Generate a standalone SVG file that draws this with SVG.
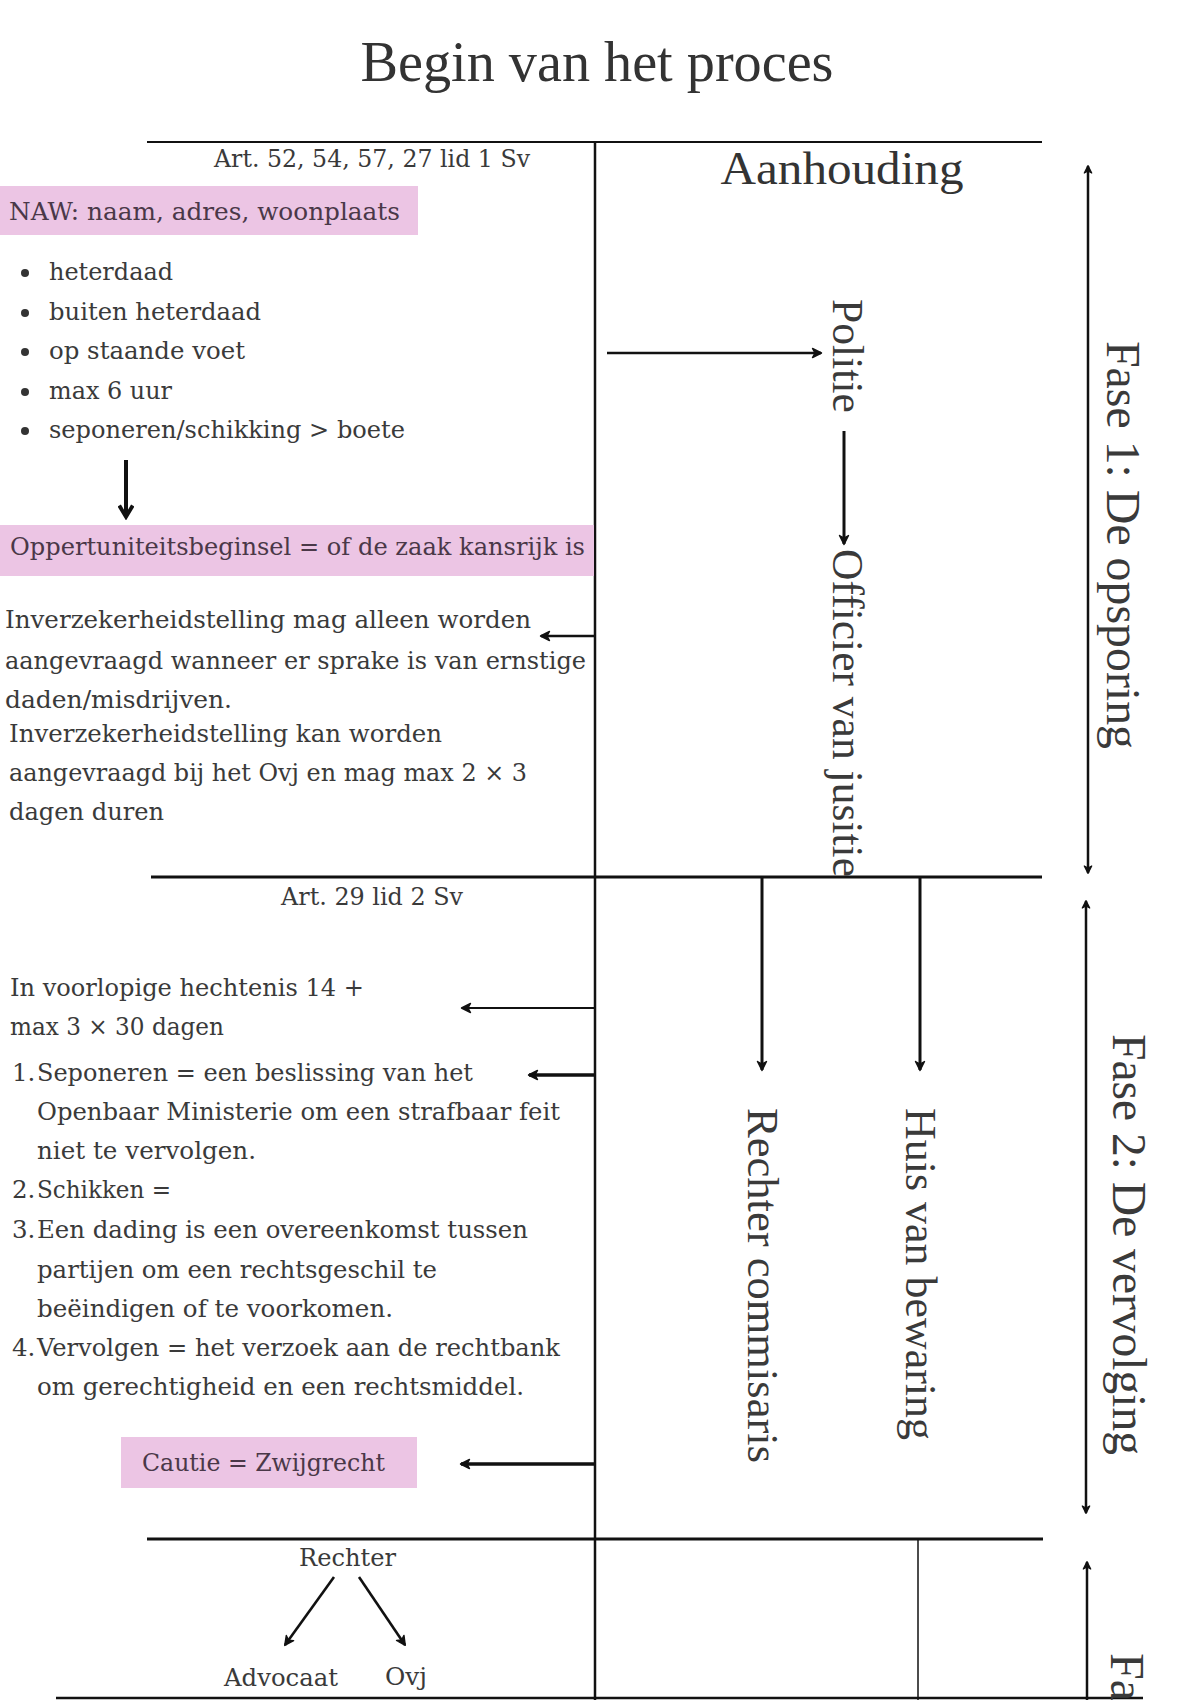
<svg xmlns="http://www.w3.org/2000/svg" width="1200" height="1700" viewBox="0 0 1200 1700">
<style>
.t{font-family:"DejaVu Serif","Liberation Serif",serif;font-size:24.5px;fill:#3a3a3a}
.h{font-family:"Liberation Serif","DejaVu Serif",serif;fill:#333}
.v{font-family:"Liberation Serif","DejaVu Serif",serif;fill:#3a3a3a}
.pk{fill:#ecc5e4}
.pt{fill:#4a3848}
.ln{stroke:#111;fill:none;stroke-linecap:butt}
.bul{fill:#333}
</style>
<defs>
<marker id="ah" viewBox="0 0 12 12" refX="10" refY="6" markerWidth="12" markerHeight="12" markerUnits="userSpaceOnUse" orient="auto-start-reverse">
<path d="M1.5,1.5 L10.5,6 L1.5,10.5 L4,6 z" fill="#111" stroke="#111" stroke-width="1.4" stroke-linejoin="round"/>
</marker>
<marker id="as" viewBox="0 0 12 12" refX="10" refY="6" markerWidth="10" markerHeight="10" markerUnits="userSpaceOnUse" orient="auto-start-reverse">
<path d="M1.5,1.5 L10.5,6 L1.5,10.5 L4,6 z" fill="#111" stroke="#111" stroke-width="1.4" stroke-linejoin="round"/>
</marker>
<marker id="ab" viewBox="0 0 10 10" refX="7.5" refY="5" markerWidth="16" markerHeight="16" markerUnits="userSpaceOnUse" orient="auto-start-reverse">
<path d="M1,0.8 L8,5 L1,9.2" fill="none" stroke="#111" stroke-width="2.4" stroke-linejoin="miter"/>
</marker>
</defs>
<rect x="0" y="0" width="1200" height="1700" fill="#ffffff"/>

<g id="title">
<text class="h" x="597" y="81" font-size="56" text-anchor="middle" textLength="473" lengthAdjust="spacingAndGlyphs">Begin van het proces</text>
</g>

<g id="frame">
<line class="ln" x1="147" y1="142" x2="1042" y2="142" stroke-width="1.8"/>
<line class="ln" x1="595" y1="141" x2="595" y2="1700" stroke-width="2.5"/>
<line class="ln" x1="151" y1="877" x2="1042" y2="877" stroke-width="3"/>
<line class="ln" x1="147" y1="1539" x2="1043" y2="1539" stroke-width="3"/>
<line class="ln" x1="56" y1="1698" x2="1143" y2="1698" stroke-width="2.5"/>
<line class="ln" x1="918" y1="1539" x2="918" y2="1700" stroke-width="1.5"/>
</g>

<g id="art-52">
<text class="t" x="214" y="167" textLength="316" lengthAdjust="spacingAndGlyphs">Art. 52, 54, 57, 27 lid 1 Sv</text>
</g>

<g id="naw">
<rect class="pk" x="0" y="186" width="418" height="49"/>
<text class="t pt" x="9" y="220" textLength="391" lengthAdjust="spacingAndGlyphs">NAW: naam, adres, woonplaats</text>
</g>

<g id="bullets">
<circle class="bul" cx="25" cy="273" r="4"/>
<text class="t" x="49" y="280" textLength="124" lengthAdjust="spacingAndGlyphs">heterdaad</text>
<circle class="bul" cx="25" cy="313" r="4"/>
<text class="t" x="49" y="320" textLength="212" lengthAdjust="spacingAndGlyphs">buiten heterdaad</text>
<circle class="bul" cx="25" cy="352" r="4"/>
<text class="t" x="49" y="359" textLength="196" lengthAdjust="spacingAndGlyphs">op staande voet</text>
<circle class="bul" cx="25" cy="392" r="4"/>
<text class="t" x="49" y="399" textLength="123" lengthAdjust="spacingAndGlyphs">max 6 uur</text>
<circle class="bul" cx="25" cy="431" r="4"/>
<text class="t" x="49" y="438" textLength="356" lengthAdjust="spacingAndGlyphs">seponeren/schikking &gt; boete</text>
</g>

<g id="oppertuniteit">
<rect class="pk" x="0" y="525" width="594" height="51"/>
<text class="t pt" x="10" y="555" textLength="575" lengthAdjust="spacingAndGlyphs">Oppertuniteitsbeginsel = of de zaak kansrijk is</text>
</g>

<g id="inverzekerheidstelling">
<text class="t" x="5" y="628" textLength="526" lengthAdjust="spacingAndGlyphs">Inverzekerheidstelling mag alleen worden</text>
<text class="t" x="5" y="669" textLength="581" lengthAdjust="spacingAndGlyphs">aangevraagd wanneer er sprake is van ernstige</text>
<text class="t" x="5" y="708" textLength="227" lengthAdjust="spacingAndGlyphs">daden/misdrijven.</text>
<text class="t" x="9" y="742" textLength="433" lengthAdjust="spacingAndGlyphs">Inverzekerheidstelling kan worden</text>
<text class="t" x="9" y="781" textLength="518" lengthAdjust="spacingAndGlyphs">aangevraagd bij het Ovj en mag max 2 × 3</text>
<text class="t" x="9" y="820" textLength="155" lengthAdjust="spacingAndGlyphs">dagen duren</text>
</g>

<g id="aanhouding">
<text class="h" x="842" y="184" font-size="46" text-anchor="middle" textLength="243" lengthAdjust="spacingAndGlyphs">Aanhouding</text>
</g>

<g id="politie">
<text class="v" transform="translate(833,299) rotate(90)" x="0" y="0" font-size="44" textLength="114" lengthAdjust="spacingAndGlyphs">Politie</text>
</g>

<g id="officier">
<text class="v" transform="translate(833,549) rotate(90)" x="0" y="0" font-size="44" textLength="328" lengthAdjust="spacingAndGlyphs">Officier van jusitie</text>
</g>

<g id="fase1">
<text class="v" transform="translate(1107,341) rotate(90)" x="0" y="0" font-size="48" textLength="408" lengthAdjust="spacingAndGlyphs">Fase 1: De opsporing</text>
</g>

<g id="art-29">
<text class="t" x="281" y="905" textLength="182" lengthAdjust="spacingAndGlyphs">Art. 29 lid 2 Sv</text>
</g>

<g id="hechtenis">
<text class="t" x="10" y="996" textLength="354" lengthAdjust="spacingAndGlyphs">In voorlopige hechtenis 14 +</text>
<text class="t" x="10" y="1035" textLength="214" lengthAdjust="spacingAndGlyphs">max 3 × 30 dagen</text>
</g>

<g id="lijst">
<text class="t" x="12" y="1081">1.</text>
<text class="t" x="37" y="1081" textLength="436" lengthAdjust="spacingAndGlyphs">Seponeren = een beslissing van het</text>
<text class="t" x="37" y="1120" textLength="523" lengthAdjust="spacingAndGlyphs">Openbaar Ministerie om een strafbaar feit</text>
<text class="t" x="37" y="1159" textLength="219" lengthAdjust="spacingAndGlyphs">niet te vervolgen.</text>
<text class="t" x="12" y="1198">2.</text>
<text class="t" x="37" y="1198" textLength="134" lengthAdjust="spacingAndGlyphs">Schikken =</text>
<text class="t" x="12" y="1238">3.</text>
<text class="t" x="37" y="1238" textLength="491" lengthAdjust="spacingAndGlyphs">Een dading is een overeenkomst tussen</text>
<text class="t" x="37" y="1278" textLength="400" lengthAdjust="spacingAndGlyphs">partijen om een rechtsgeschil te</text>
<text class="t" x="37" y="1317" textLength="356" lengthAdjust="spacingAndGlyphs">beëindigen of te voorkomen.</text>
<text class="t" x="12" y="1356">4.</text>
<text class="t" x="37" y="1356" textLength="523" lengthAdjust="spacingAndGlyphs">Vervolgen = het verzoek aan de rechtbank</text>
<text class="t" x="37" y="1395" textLength="487" lengthAdjust="spacingAndGlyphs">om gerechtigheid en een rechtsmiddel.</text>
</g>

<g id="cautie">
<rect class="pk" x="121" y="1437" width="296" height="51"/>
<text class="t pt" x="142" y="1471" textLength="243" lengthAdjust="spacingAndGlyphs">Cautie = Zwijgrecht</text>
</g>

<g id="rechter-commisaris">
<text class="v" transform="translate(748,1108) rotate(90)" x="0" y="0" font-size="44" textLength="355" lengthAdjust="spacingAndGlyphs">Rechter commisaris</text>
</g>

<g id="huis-van-bewaring">
<text class="v" transform="translate(906,1108) rotate(90)" x="0" y="0" font-size="44" textLength="332" lengthAdjust="spacingAndGlyphs">Huis van bewaring</text>
</g>

<g id="fase2">
<text class="v" transform="translate(1113,1034) rotate(90)" x="0" y="0" font-size="48" textLength="421" lengthAdjust="spacingAndGlyphs">Fase 2: De vervolging</text>
</g>

<g id="fase3">
<text class="v" transform="translate(1111,1653) rotate(90)" x="0" y="0" font-size="48">Fa</text>
</g>

<g id="rechter">
<text class="t" x="299" y="1566" textLength="97" lengthAdjust="spacingAndGlyphs">Rechter</text>
</g>
<g id="advocaat">
<text class="t" x="224" y="1686" textLength="114" lengthAdjust="spacingAndGlyphs">Advocaat</text>
</g>
<g id="ovj">
<text class="t" x="385" y="1685" textLength="42" lengthAdjust="spacingAndGlyphs">Ovj</text>
</g>

<g id="connectors">
<line class="ln" x1="126" y1="460" x2="126" y2="516" stroke-width="4" marker-end="url(#ab)"/>
<line class="ln" x1="607" y1="353" x2="821" y2="353" stroke-width="2.7" marker-end="url(#ah)"/>
<line class="ln" x1="844" y1="431" x2="844" y2="544" stroke-width="3" marker-end="url(#ah)"/>
<line class="ln" x1="595" y1="636" x2="541" y2="636" stroke-width="2.6" marker-end="url(#ah)"/>
<line class="ln" x1="595" y1="1008" x2="462" y2="1008" stroke-width="2.2" marker-end="url(#ah)"/>
<line class="ln" x1="595" y1="1075" x2="529" y2="1075" stroke-width="3.3" marker-end="url(#ah)"/>
<line class="ln" x1="595" y1="1464" x2="461" y2="1464" stroke-width="3.3" marker-end="url(#ah)"/>
<line class="ln" x1="334" y1="1577" x2="285" y2="1645" stroke-width="2.6" marker-end="url(#ah)"/>
<line class="ln" x1="359" y1="1577" x2="405" y2="1645" stroke-width="2.6" marker-end="url(#ah)"/>
<line class="ln" x1="762" y1="877" x2="762" y2="1070" stroke-width="3" marker-end="url(#ah)"/>
<line class="ln" x1="920" y1="877" x2="920" y2="1070" stroke-width="3" marker-end="url(#ah)"/>
<line class="ln" x1="1088" y1="166" x2="1088" y2="873" stroke-width="2.5" marker-start="url(#as)" marker-end="url(#as)"/>
<line class="ln" x1="1086" y1="901" x2="1086" y2="1513" stroke-width="2.5" marker-start="url(#as)" marker-end="url(#as)"/>
<line class="ln" x1="1087" y1="1562" x2="1087" y2="1700" stroke-width="2.5" marker-start="url(#as)"/>
</g>
</svg>
